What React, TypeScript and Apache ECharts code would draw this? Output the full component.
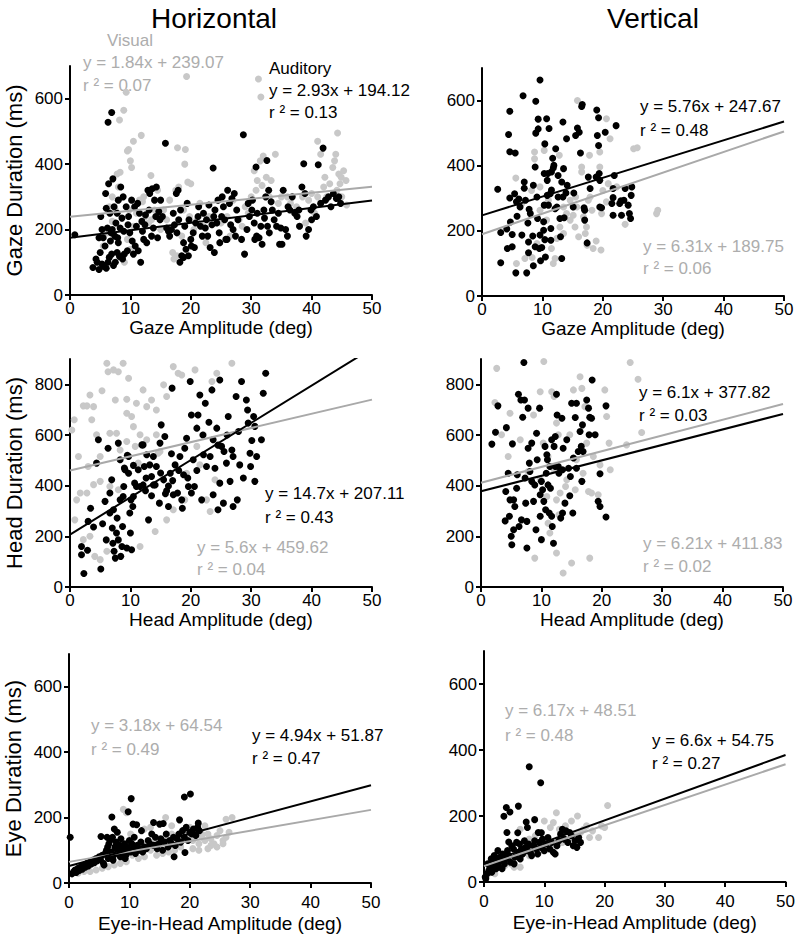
import React, { useEffect, useRef } from "react";
import * as echarts from "echarts";

// ---------- tick values ----------
const xTickValues = [0, 10, 20, 30, 40, 50];
const yTicksShort = [0, 200, 400, 600];
const yTicksTall = [0, 200, 400, 600, 800];

// ---------- Gaze, horizontal (flat x,y pairs) ----------
const gazeH_aud = [
  0.8,184, 6.9,558, 6.3,528,
  3.8,84, 4.5,100, 4.8,78, 5.3,95, 5.5,88, 6.0,82, 6.3,100, 6.5,115, 6.9,125, 7.2,90, 7.5,100, 7.8,130, 8.2,118, 8.7,110, 8.0,160, 9.0,125, 9.5,135,
  4.3,110, 5.0,130, 5.8,150, 6.7,165, 7.4,180, 5.5,175, 6.2,205, 7.0,200, 7.6,220, 8.3,205, 8.9,195, 9.6,215, 5.1,240, 6.0,265, 6.6,250, 7.3,270,
  8.0,290, 8.8,300, 9.3,270, 7.8,250, 6.4,340, 7.1,355, 5.9,310, 8.4,330, 9.7,240, 9.9,190, 4.8,175, 5.3,200, 6.8,190, 7.9,175, 8.6,235,
  10.3,165, 10.8,150, 11.3,135, 11.7,100, 10.5,125, 11.0,210, 11.9,225, 12.4,215, 12.9,320, 13.2,310, 13.6,325, 12.5,245, 13.1,260, 14.0,290, 14.3,330,
  14.7,255, 13.5,180, 12.2,170, 14.2,240, 14.9,230, 12.7,160, 11.5,250, 10.7,270, 12.0,195, 13.8,205, 14.5,175, 15.3,240, 15.0,290, 10.2,290, 11.2,280,
  15.8,464, 16.5,180, 16.8,200, 17.3,215, 17.6,310, 17.9,320, 18.2,100, 18.5,120, 18.8,115, 19.2,140, 19.6,120, 20.1,150, 20.4,190, 20.8,220, 21.2,240,
  21.6,210, 19.0,210, 18.3,260, 17.1,250, 16.3,195, 19.7,230, 20.6,145, 21.9,180, 18.8,160, 17.7,190, 16.0,205, 20.0,170, 19.4,280, 18.0,230, 21.3,270,
  22.4,205, 22.8,180, 23.2,145, 23.7,388, 23.9,130, 24.3,220, 24.7,190, 25.1,240, 25.6,230, 26.0,170, 26.4,280, 26.8,295, 27.2,310, 27.6,260, 22.1,250,
  23.0,275, 24.0,260, 25.2,300, 26.1,320, 27.0,200, 27.8,230, 25.8,170, 24.8,160, 23.5,215, 22.6,230, 26.6,215, 27.4,180, 25.4,270, 24.5,290, 23.8,240,
  28.7,490, 28.4,170, 28.9,125, 29.3,200, 29.7,240, 30.1,260, 30.5,220, 30.9,180, 31.3,175, 31.6,210, 32.1,260, 32.6,411, 30.8,391, 32.4,300, 32.9,320,
  33.3,285, 33.8,230, 34.2,210, 34.7,155, 31.0,250, 30.2,290, 31.8,155, 33.0,190, 34.5,250, 32.7,210, 29.5,280, 30.6,170, 33.5,260, 34.9,205, 32.2,235,
  35.3,320, 35.7,200, 36.0,180, 36.4,260, 36.8,300, 37.2,250, 37.6,240, 38.0,210, 38.4,330, 38.7,401, 39.1,180, 39.5,200, 39.9,260, 40.3,270, 40.8,240,
  41.1,398, 41.5,280, 41.9,449, 42.3,290, 42.8,300, 43.2,270, 43.6,310, 44.1,295, 44.5,300, 44.8,280, 36.1,270, 37.9,260, 35.1,155, 38.9,310, 40.0,230,
];
const gazeH_vis = [
  8.2,535, 8.9,565, 9.3,620, 9.5,440, 9.7,445, 10.0,410, 10.2,390, 10.5,470, 11.8,488, 7.8,370, 8.3,375, 12.0,285, 13.4,365, 17.8,450, 19.1,445,
  19.3,668, 19.0,400, 19.5,345, 20.0,340, 17.5,320, 18.0,330, 30.5,380, 31.2,660, 31.6,605, 31.5,410, 32.0,425, 31.0,350, 31.8,335, 32.5,360, 33.0,300,
  33.3,350, 34.0,430, 35.0,300, 36.0,300, 40.0,310, 41.0,470, 41.5,430, 42.0,330, 42.5,300, 43.5,390, 43.8,410, 44.0,430, 44.3,495, 44.5,370, 44.9,360,
  45.3,380, 45.7,350, 44.7,340, 45.0,300, 43.0,340, 42.2,360, 44.2,320, 45.8,275, 41.0,300, 40.5,250, 39.0,220, 38.0,210,
  5.5,150, 6.0,200, 6.5,270, 7.0,300, 7.5,260, 8.5,120, 9.0,100, 9.5,170, 10.0,140, 10.5,210, 11.0,250, 11.5,290, 12.5,240, 13.0,220, 14.0,260,
  15.0,200, 16.0,230, 16.5,290, 17.0,130, 17.2,110, 17.7,120, 18.5,180, 18.8,260, 19.8,240, 20.5,200, 21.0,230, 22.0,210, 23.0,240, 24.0,260, 25.0,220,
  26.0,240, 27.0,290, 28.0,230, 28.5,210, 29.0,270, 29.5,250, 30.0,300, 30.8,320, 34.5,280, 36.5,280, 37.5,270, 38.5,300, 39.5,290, 26.5,180, 22.5,160,
  21.5,280, 13.5,230, 12.2,300, 8.0,330, 7.0,225, 6.2,190, 9.8,260, 14.5,320, 15.5,260,
];

// ---------- Gaze, vertical ----------
const gazeV_aud = [
  2.6,328, 3.1,102, 3.1,195, 4.1,206, 4.2,146, 4.4,496, 4.6,567, 4.6,301, 4.6,443, 5.0,151, 5.0,189, 4.7,227, 5.5,439, 5.6,71, 5.4,314,
  5.7,289, 6.1,298, 5.8,245, 6.3,273, 6.6,187, 6.8,615, 7.0,350, 7.0,331, 7.2,294, 7.4,71, 7.6,224, 7.7,166, 7.7,133, 7.8,266, 8.0,253,
  8.4,184, 8.5,93, 8.5,340, 8.8,396, 8.8,151, 8.9,500, 8.9,598, 9.1,304, 9.2,238, 9.3,543, 9.3,513, 9.5,146, 9.6,663, 9.6,187, 9.7,108,
  9.9,149, 10.2,228, 10.2,202, 10.3,279, 10.4,467, 10.3,376, 10.4,173, 10.5,120, 10.7,544, 10.8,355, 10.9,376, 10.8,309, 11.0,279, 11.1,514, 11.3,314,
  11.4,207, 11.4,171, 11.5,325, 11.5,381, 11.7,423, 11.8,393, 11.9,401, 12.1,268, 12.2,452, 12.4,273, 12.6,370, 12.6,304, 12.9,238, 13.0,182, 13.2,115,
  13.2,350, 13.4,534, 13.4,304, 13.5,391, 13.6,240, 13.9,316, 14.0,483, 14.1,340, 15.1,273, 15.2,316, 15.5,493, 15.8,516, 16.1,503, 16.3,439, 16.5,582,
  16.6,588, 16.9,271, 17.0,263, 17.0,233, 17.4,163, 17.6,365, 17.9,330, 18.9,365, 19.0,571, 19.1,493, 19.3,462, 19.3,547, 19.4,376, 19.5,355, 19.5,273,
  19.8,271, 20.4,503, 21.5,284, 21.7,330, 21.7,248, 21.9,370, 22.2,523, 21.7,302, 22.8,284, 23.0,292, 23.1,248, 23.5,294, 23.7,330, 24.2,279, 24.4,253,
  24.7,309, 24.8,335, 24.6,238,
];
const gazeV_vis = [
  5.6,362, 8.7,442, 8.7,421, 15.8,600, 16.5,396, 16.5,381, 17.8,432, 19.5,442, 20.6,544, 21.2,483, 25.1,452, 25.7,455, 28.9,253, 29.1,263, 18.4,146,
  18.9,169, 19.7,141, 17.6,294, 15.4,212, 15.1,248, 15.5,304, 16.8,243, 17.3,212, 17.9,304, 20.0,324, 19.8,253, 20.6,289, 18.2,263, 23.7,220, 11.8,100,
  12.1,115, 11.5,146, 12.4,177, 9.6,263, 10.7,233, 10.3,447, 5.7,100, 7.1,115, 8.3,118, 9.1,161, 12.8,432, 12.9,212, 14.0,253, 14.6,294, 13.5,273,
  6.6,284, 8.2,324, 9.6,335, 11.0,294, 13.5,192, 14.6,233, 16.0,182, 17.1,192, 17.4,156, 20.9,345, 19.5,396, 22.3,335, 15.7,273,
];

// ---------- Head, horizontal ----------
const headH_aud = [
  1.9,160, 1.9,127, 2.3,53, 2.9,145, 3.0,259, 3.4,311, 3.9,237, 4.4,489, 4.7,581, 5.1,71, 5.8,338, 5.4,250, 6.3,548, 6.6,292, 6.9,423,
  6.6,371, 7.0,233, 7.1,173, 7.3,141, 7.5,114, 7.7,213, 7.8,272, 8.0,568, 8.3,502, 8.4,121, 8.3,344, 8.6,160, 8.7,239, 8.9,397, 9.1,463,
  9.4,154, 9.7,515, 9.7,449, 9.9,292, 10.0,213, 10.2,147, 10.4,318, 10.5,357, 10.7,410, 11.0,397, 11.3,463, 11.6,397, 11.9,561, 12.1,561, 12.3,476,
  12.6,430, 12.7,522, 13.0,265, 13.2,482, 13.5,436, 13.8,515, 14.1,403, 14.3,476, 14.8,331, 15.1,640, 15.5,423, 15.7,594, 15.8,368, 16.3,399, 16.3,318,
  16.6,449, 16.8,526, 16.9,785, 17.1,364, 17.4,482, 17.8,371, 18.2,515, 18.5,344, 18.6,311, 18.8,443, 19.0,548, 19.3,587, 19.6,397, 19.9,811, 20.1,679,
  20.4,502, 20.6,397, 21.0,627, 21.2,679, 21.5,758, 21.8,344, 22.1,522, 22.4,725, 22.6,476, 23.2,515, 23.5,778, 23.7,581, 24.0,469, 24.3,627, 24.5,305,
  24.8,817, 24.8,410, 25.1,555, 25.4,331, 25.5,535, 25.9,489, 26.2,673, 26.5,417, 26.8,541, 27.0,515, 27.5,752, 27.7,344, 27.9,614, 28.1,482, 28.4,811,
  28.7,430, 29.2,738, 29.4,699, 29.5,647, 29.8,528, 29.9,476, 30.1,578, 30.4,673, 30.6,417, 30.9,515, 31.7,581, 32.0,765, 32.4,844, 30.6,634, 27.0,318,
  23.7,364, 20.1,371, 14.9,568, 13.8,403, 12.1,403, 8.8,357, 10.1,344, 7.2,305, 8.0,186, 6.0,186,
  9.0,470, 9.5,520, 10.5,480, 12.5,380, 13.5,360, 15.0,450, 16.0,380, 17.0,420, 18.0,460, 19.5,430, 21.0,460, 22.0,600, 23.0,650, 24.5,560, 26.0,600,
];
const headH_vis = [
  0.3,620, 0.7,660, 1.4,515, 1.7,371, 2.2,715, 2.8,715, 3.3,758, 3.6,660, 3.0,476, 3.9,712, 4.4,601, 5.0,515, 5.3,775, 6.1,883, 6.3,850,
  7.2,857, 8.0,850, 7.5,738, 8.8,883, 9.7,824, 9.4,741, 9.4,686, 10.2,673, 10.5,633, 11.0,725, 12.1,778, 11.6,601, 12.7,712, 13.5,738, 14.3,699,
  14.6,528, 15.5,798, 16.0,752, 17.1,870, 17.9,844, 18.5,837, 20.7,857, 23.5,811, 24.3,844, 26.8,883, 0.8,265, 2.2,187, 3.3,200, 4.1,121, 5.0,108,
  6.1,141, 6.6,397, 8.0,384, 11.6,160, 14.1,219, 16.0,265, 17.1,305, 19.0,344, 19.3,449, 21.5,482, 22.6,344, 23.2,298, 24.0,423, 22.1,601, 21.0,555,
  14.3,601, 14.9,535, 12.7,581, 10.8,555, 8.3,541, 5.0,417, 3.9,404, 2.8,371, 1.1,344, 7.7,607, 6.6,607, 11.3,489, 9.4,574,
];

// ---------- Head, vertical ----------
const headV_aud = [
  1.8,564, 2.4,611, 2.8,715, 4.0,261, 4.1,377, 4.2,629, 4.5,449, 4.7,279, 4.8,344, 5.0,200, 5.1,167, 5.2,565, 5.4,226, 5.6,318, 5.9,390,
  6.0,443, 6.2,761, 6.3,239, 6.6,738, 6.7,265, 6.9,670, 7.1,886, 7.2,738, 7.3,430, 7.4,331, 7.6,154, 7.6,259, 7.8,548, 7.8,706, 8.0,489,
  8.1,456, 8.4,417, 8.7,338, 8.9,403, 9.1,226, 9.2,607, 9.3,502, 9.7,706, 9.8,364, 10.0,187, 10.0,417, 10.2,384, 10.4,338, 10.6,555, 10.7,305,
  10.8,449, 10.9,522, 11.0,502, 11.1,403, 11.3,292, 11.4,476, 11.5,390, 11.7,279, 11.8,239, 12.0,173, 12.1,555, 12.3,594, 12.3,476, 12.5,761, 12.6,679,
  12.8,476, 12.9,449, 13.2,272, 13.4,666, 13.5,292, 13.6,548, 13.9,331, 14.2,581, 14.5,469, 14.7,360, 14.8,436, 15.0,725, 15.2,292, 15.3,509, 15.6,669,
  15.8,725, 16.1,535, 16.4,614, 16.6,555, 16.7,417, 16.8,640, 16.9,535, 17.5,738, 17.8,706, 17.9,601, 18.0,670, 18.3,666, 18.4,817, 18.9,601, 19.7,447,
  19.4,338, 19.7,318, 20.7,276, 20.7,715, 15.8,469, 13.5,463, 11.7,581, 9.8,279, 8.4,568, 5.4,344,
];
const headV_vis = [
  2.6,863, 2.3,728, 3.4,601, 4.5,515, 4.8,686, 6.5,581, 7.8,456, 8.7,679, 8.9,114, 9.8,771, 10.3,568, 10.4,890, 11.1,252, 11.4,213, 11.7,771,
  12.1,752, 12.5,134, 12.8,601, 12.9,285, 13.6,55, 13.1,371, 14.2,423, 14.7,601, 15.0,95, 15.3,778, 15.8,502, 16.4,830, 16.7,784, 17.2,712, 17.5,568,
  17.8,377, 18.0,114, 18.3,371, 18.6,515, 19.4,364, 19.7,482, 20.5,778, 21.2,568, 21.4,463, 24.7,886, 24.1,561, 26.0,820, 26.6,610, 20.8,673, 12.5,344,
  10.9,357, 9.8,423, 14.0,397, 12.1,463, 11.1,515, 15.6,384, 12.5,647, 16.9,449,
];

// ---------- Eye-in-head, horizontal ----------
const eyeH_aud = [
  0.5,28, 0.8,35, 1.0,40, 1.2,32, 1.5,45, 1.7,38, 2.0,50, 2.2,42, 2.5,55, 2.7,48, 3.0,60, 3.2,52, 3.5,65, 3.7,58, 4.0,70,
  4.2,62, 4.5,75, 4.7,68, 5.0,80, 5.2,72, 5.5,85, 5.7,60, 6.0,90, 6.2,100, 6.4,110, 6.6,120, 6.8,130, 7.0,95, 7.2,140, 7.4,85,
  7.6,110, 7.8,125, 8.0,100, 8.2,90, 8.4,115, 8.6,135, 8.8,105, 9.0,95, 9.2,120, 9.4,85, 9.6,110, 9.8,100, 10.0,130, 10.2,95, 10.4,120,
  10.6,105, 10.8,140, 11.0,90, 11.3,115, 11.6,100, 11.9,125, 12.2,95, 12.5,110, 12.8,105, 13.1,130, 13.4,120, 13.7,150, 14.0,115, 14.3,140, 14.6,105,
  14.9,120, 15.2,135, 15.5,100, 15.8,125, 16.1,150, 16.4,110, 16.7,130, 17.0,120, 17.3,140, 17.6,115, 17.9,135, 18.2,150, 18.5,125, 18.8,160, 19.1,140,
  19.4,170, 19.7,130, 20.0,155, 20.3,150, 20.6,165, 21.0,145, 21.3,170, 21.6,160, 6.5,75, 7.3,70, 8.5,80, 9.3,75, 5.8,55,
  0.2,140, 5.3,142, 7.1,202, 7.5,165, 9.8,218, 10.3,258, 10.6,180, 11.2,178, 14.0,185, 15.0,180, 15.6,182, 17.4,80, 18.3,193, 19.1,263, 19.2,93,
  20.1,272, 21.4,183, 12.0,160, 8.0,155, 6.3,140,
];
const eyeH_vis = [
  9.0,225, 9.5,215, 10.2,150, 12.5,165, 13.5,170, 16.0,200, 17.0,175, 19.5,150, 20.5,130, 21.5,120, 22.0,140, 22.5,130, 23.0,150, 23.5,135, 24.0,120,
  24.5,145, 25.0,160, 25.5,130, 26.0,140, 26.5,155, 27.0,200, 26.0,195, 23.5,115, 24.5,110, 25.5,120, 22.5,175, 18.5,110, 17.5,100, 16.5,95, 15.5,90,
  14.5,85, 13.5,100, 12.5,80, 11.5,75, 10.5,85, 9.5,65, 8.5,60, 7.5,55, 6.5,50, 5.5,45, 4.5,40, 3.5,35, 2.5,35, 1.5,30, 7.0,80,
  8.0,90, 9.0,70, 10.0,100, 11.0,110, 12.0,120, 13.0,115, 14.0,125, 15.0,130, 16.0,140, 17.0,150, 18.0,145, 19.0,160, 20.0,170, 21.0,160, 22.0,150,
  20.5,105, 21.5,100, 23.0,105,
];

// ---------- Eye-in-head, vertical ----------
const eyeV_aud = [
  7.5,349, 9.4,301, 5.7,230, 3.7,226, 4.3,212, 3.3,199, 3.8,150, 7.0,182, 8.4,189, 5.6,149, 4.1,121, 7.2,165, 9.5,149,
  0.2,15, 0.5,25, 0.8,35, 1.0,45, 1.3,30, 1.5,55, 1.7,80, 1.9,70, 2.1,60, 2.4,50, 2.6,75, 2.9,65, 3.1,85, 3.4,55, 3.6,70,
  3.9,95, 4.1,80, 4.4,60, 4.6,110, 4.9,100, 5.1,75, 5.4,120, 5.7,90, 5.9,115, 6.2,100, 6.4,85, 6.7,125, 6.9,105, 7.2,95, 7.4,115,
  7.7,90, 7.9,80, 8.2,110, 8.4,125, 8.7,100, 8.9,85, 9.2,120, 9.5,105, 9.7,130, 10.0,95, 10.3,115, 10.6,135, 10.9,100, 11.2,120, 11.5,90,
  11.8,85, 12.1,110, 12.4,125, 12.7,145, 13.0,160, 13.3,130, 13.6,155, 13.9,120, 14.2,150, 14.5,140, 14.8,110, 15.1,125, 15.4,105, 15.7,135, 16.0,120,
  0.6,55, 1.2,70, 2.0,40, 3.0,40, 5.0,55, 6.0,70, 0.3,10, 2.3,95, 9.0,150,
];
const eyeV_vis = [
  0.5,20, 1.0,30, 1.5,35, 2.0,45, 2.5,55, 3.0,60, 3.5,50, 4.0,75, 4.5,70, 5.0,45, 5.5,90, 6.0,160, 6.5,110, 7.0,125, 7.5,130,
  8.0,95, 8.5,140, 9.0,120, 9.5,150, 10.0,185, 10.5,130, 11.0,165, 11.5,180, 12.0,210, 12.5,160, 13.0,140, 13.5,170, 14.0,130, 14.5,185, 15.0,145,
  15.5,200, 16.0,150, 16.5,160, 17.0,170, 17.5,135, 18.0,155, 19.0,135, 19.5,170, 20.0,165, 20.5,232, 3.0,70, 4.5,55, 7.5,80, 9.5,95, 11.5,110,
  13.0,120, 6.0,45, 1.8,25,
];

// ---------- regression lines [slope, intercept] as drawn ----------
const fitGazeH_aud = [2.28, 175];
const fitGazeH_vis = [1.84, 239.07];
const fitGazeV_aud = [5.76, 247.67];
const fitGazeV_vis = [6.31, 189.75];
const fitHeadH_aud = [14.7, 207.11];
const fitHeadH_vis = [5.6, 459.62];
const fitHeadV_aud = [6.1, 377.82];
const fitHeadV_vis = [6.21, 411.83];
const fitEyeH_aud = [4.94, 51.87];
const fitEyeH_vis = [3.18, 64.54];
const fitEyeV_aud = [6.6, 54.75];
const fitEyeV_vis = [6.17, 48.51];

// ---------- equation labels ----------
const labelsGazeH = ["Visual", "y = 1.84x + 239.07", "r ² = 0.07", "Auditory", "y = 2.93x + 194.12", "r ² = 0.13"];
const labelsGazeV = ["y = 5.76x + 247.67", "r ² = 0.48", "y = 6.31x + 189.75", "r ² = 0.06"];
const labelsHeadH = ["y = 14.7x + 207.11", "r ² = 0.43", "y = 5.6x + 459.62", "r ² = 0.04"];
const labelsHeadV = ["y = 6.1x + 377.82", "r ² = 0.03", "y = 6.21x + 411.83", "r ² = 0.02"];
const labelsEyeH = ["y = 3.18x + 64.54", "r ² = 0.49", "y = 4.94x + 51.87", "r ² = 0.47"];
const labelsEyeV = ["y = 6.17x + 48.51", "r ² = 0.48", "y = 6.6x + 54.75", "r ² = 0.27"];

const FONT = "'Liberation Sans', Arial, sans-serif";
const BLACK = "#000000";
const GRAY_PT = "#c8c8c8";
const GRAY_LINE = "#a9a9a9";
const GRAY_TXT = "#adadad";

const pairs = (flat: number[]) => {
  const out: number[][] = [];
  for (let i = 0; i + 1 < flat.length; i += 2) out.push([flat[i], flat[i + 1]]);
  return out;
};

export default function App() {
  const ref = useRef<HTMLDivElement>(null);

  useEffect(() => {
    if (!ref.current) return;
    const chart = echarts.init(ref.current, null, { renderer: "svg" });

    const panels = [
      { grid: { left: 70, top: 66, width: 302, height: 229 }, yMax: 700, yTicks: yTicksShort, xName: "Gaze Amplitude (deg)", yName: "Gaze Duration (ms)", aud: gazeH_aud, vis: gazeH_vis, fa: fitGazeH_aud, fv: fitGazeH_vis, xm: 5, xg: 19 },
      { grid: { left: 482, top: 68, width: 302, height: 228 }, yMax: 700, yTicks: yTicksShort, xName: "Gaze Amplitude (deg)", yName: "", aud: gazeV_aud, vis: gazeV_vis, fa: fitGazeV_aud, fv: fitGazeV_vis, xm: 5, xg: 19 },
      { grid: { left: 70, top: 359, width: 302, height: 228 }, yMax: 900, yTicks: yTicksTall, xName: "Head Amplitude (deg)", yName: "Head Duration (ms)", aud: headH_aud, vis: headH_vis, fa: fitHeadH_aud, fv: fitHeadH_vis, xm: 5, xg: 18 },
      { grid: { left: 481, top: 359, width: 302, height: 228 }, yMax: 900, yTicks: yTicksTall, xName: "Head Amplitude (deg)", yName: "", aud: headV_aud, vis: headV_vis, fa: fitHeadV_aud, fv: fitHeadV_vis, xm: 5, xg: 18 },
      { grid: { left: 69, top: 654, width: 302, height: 229 }, yMax: 700, yTicks: yTicksShort, xName: "Eye-in-Head Amplitude (deg)", yName: "Eye Duration (ms)", aud: eyeH_aud, vis: eyeH_vis, fa: fitEyeH_aud, fv: fitEyeH_vis, xm: 11, xg: 31 },
      { grid: { left: 484, top: 651, width: 302, height: 231 }, yMax: 700, yTicks: yTicksShort, xName: "Eye-in-Head Amplitude (deg)", yName: "", aud: eyeV_aud, vis: eyeV_vis, fa: fitEyeV_aud, fv: fitEyeV_vis, xm: 11, xg: 31 },
    ];

    const axisLine = { show: true, lineStyle: { color: BLACK, width: 2 } };

    const grid = panels.map((p) => ({ ...p.grid, containLabel: false }));
    const xAxis = panels.map((p, i) => ({
      type: "value",
      gridIndex: i,
      min: 0,
      max: 50,
      interval: 10,
      splitLine: { show: false },
      axisLine,
      axisTick: { show: true, inside: false, length: 5, lineStyle: { color: BLACK, width: 2 }, customValues: xTickValues },
      axisLabel: { color: BLACK, fontSize: 17, fontFamily: FONT, margin: p.xm, customValues: xTickValues },
      name: p.xName,
      nameLocation: "middle",
      nameGap: p.xg,
      nameTextStyle: { color: BLACK, fontSize: 19, fontFamily: FONT },
    }));
    const yAxis = panels.map((p, i) => ({
      type: "value",
      gridIndex: i,
      min: 0,
      max: p.yMax,
      splitLine: { show: false },
      axisLine,
      axisTick: { show: true, inside: false, length: 5, lineStyle: { color: BLACK, width: 2 }, customValues: p.yTicks },
      axisLabel: { color: BLACK, fontSize: 17, fontFamily: FONT, margin: 7, customValues: p.yTicks },
      name: p.yName,
      nameLocation: "middle",
      nameGap: 45,
      nameTextStyle: { color: BLACK, fontSize: 22, fontFamily: FONT },
    }));

    const series: any[] = [];
    panels.forEach((p, i) => {
      series.push({
        type: "scatter", xAxisIndex: i, yAxisIndex: i, data: pairs(p.vis),
        symbolSize: 7, itemStyle: { color: GRAY_PT, opacity: 1 }, z: 2, silent: true,
      });
      series.push({
        type: "scatter", xAxisIndex: i, yAxisIndex: i, data: pairs(p.aud),
        symbolSize: 7, itemStyle: { color: BLACK, opacity: 1 }, z: 3, silent: true,
      });
      series.push({
        type: "line", xAxisIndex: i, yAxisIndex: i, showSymbol: false, symbol: "none", clip: true,
        data: [[0, p.fv[1]], [50, p.fv[1] + 50 * p.fv[0]]],
        lineStyle: { color: GRAY_LINE, width: 2 }, z: 4, silent: true,
      });
      series.push({
        type: "line", xAxisIndex: i, yAxisIndex: i, showSymbol: false, symbol: "none", clip: true,
        data: [[0, p.fa[1]], [50, p.fa[1] + 50 * p.fa[0]]],
        lineStyle: { color: BLACK, width: 2 }, z: 5, silent: true,
      });
    });

    const txt = (x: number, y: number, text: string, fill: string, size = 17, align = "left") => ({
      type: "text",
      x, y,
      style: { text, fill, fontSize: size, fontFamily: FONT, textAlign: align, textVerticalAlign: "middle" },
    });

    const graphic = [
      txt(214, 18, "Horizontal", BLACK, 28, "center"),
      txt(653, 18, "Vertical", BLACK, 28, "center"),
      // gaze horizontal
      txt(107, 40, labelsGazeH[0], GRAY_TXT),
      txt(83, 62, labelsGazeH[1], GRAY_TXT),
      txt(83, 85, labelsGazeH[2], GRAY_TXT),
      txt(269, 68, labelsGazeH[3], BLACK),
      txt(269, 90, labelsGazeH[4], BLACK),
      txt(269, 112, labelsGazeH[5], BLACK),
      // gaze vertical
      txt(640, 106, labelsGazeV[0], BLACK),
      txt(640, 130, labelsGazeV[1], BLACK),
      txt(643, 246, labelsGazeV[2], GRAY_TXT),
      txt(643, 268, labelsGazeV[3], GRAY_TXT),
      // head horizontal
      txt(265, 493, labelsHeadH[0], BLACK),
      txt(265, 517, labelsHeadH[1], BLACK),
      txt(197, 547, labelsHeadH[2], GRAY_TXT),
      txt(197, 569, labelsHeadH[3], GRAY_TXT),
      // head vertical
      txt(639, 392, labelsHeadV[0], BLACK),
      txt(639, 415, labelsHeadV[1], BLACK),
      txt(643, 543, labelsHeadV[2], GRAY_TXT),
      txt(643, 566, labelsHeadV[3], GRAY_TXT),
      // eye horizontal
      txt(91, 725, labelsEyeH[0], GRAY_TXT),
      txt(91, 749, labelsEyeH[1], GRAY_TXT),
      txt(252, 735, labelsEyeH[2], BLACK),
      txt(252, 758, labelsEyeH[3], BLACK),
      // eye vertical
      txt(505, 710, labelsEyeV[0], GRAY_TXT),
      txt(505, 735, labelsEyeV[1], GRAY_TXT),
      txt(652, 740, labelsEyeV[2], BLACK),
      txt(652, 763, labelsEyeV[3], BLACK),
    ];

    chart.setOption({
      animation: false,
      backgroundColor: "#ffffff",
      grid,
      xAxis,
      yAxis,
      series,
      graphic,
    });

    return () => chart.dispose();
  }, []);

  return (
    <div
      ref={ref}
      style={{ position: "absolute", left: 0, top: 0, width: 798, height: 937 }}
    />
  );
}
